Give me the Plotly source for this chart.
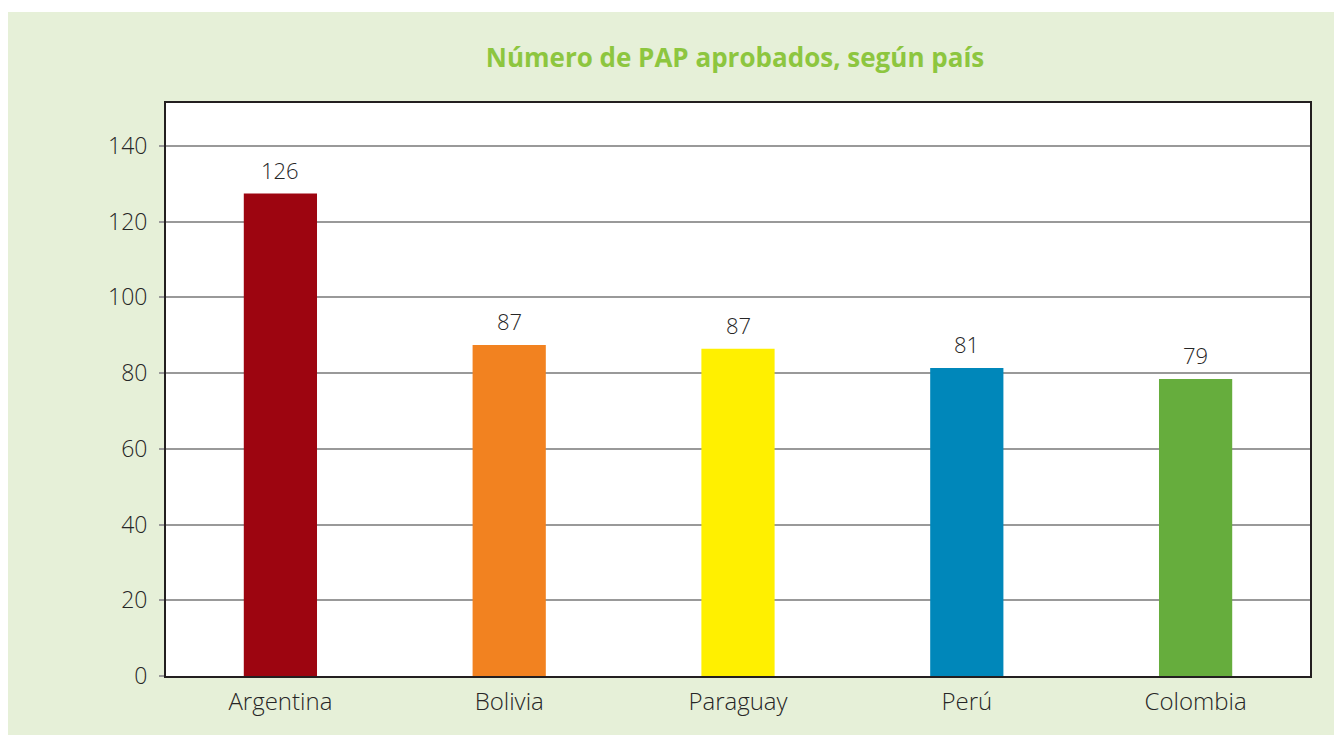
import plotly.graph_objects as go

countries = ["Argentina", "Bolivia", "Paraguay", "Perú", "Colombia"]
bar_values = [127.4, 87.4, 86.4, 81.3, 78.4]
label_values = [126, 87, 87, 81, 79]
bar_colors = ["#9d0510", "#f28220", "#fff000", "#0087ba", "#66ad3d"]
y_ticks = [0, 20, 40, 60, 80, 100, 120, 140]

# page body has an 8px margin, so the figure is drawn at (8, 8)
W, H = 1334, 727
ML, MR, MT, MB = 158, 32, 95, 59
pw, ph = W - ML - MR, H - MT - MB
TEXT = "#262626"

fig = go.Figure()
fig.add_trace(go.Bar(
    x=countries, y=bar_values,
    marker=dict(color=bar_colors, line=dict(width=0)),
    width=0.32, hoverinfo="skip",
))

for c, v, lab in zip(countries, bar_values, label_values):
    fig.add_annotation(x=c, y=v, text=str(lab), showarrow=False,
                       yanchor="bottom", yshift=7,
                       font=dict(family="Open Sans", size=22, color=TEXT,
                                 weight=300))

def px_x(p):
    return (p - ML) / pw

def px_y(p):
    return (H - MB - p) / ph

# thin white strip at the top
fig.add_shape(type="rect", xref="paper", yref="paper", layer="below",
              x0=px_x(-5), x1=px_x(W + 5), y0=px_y(4), y1=px_y(-5),
              fillcolor="white", line=dict(width=0))

fig.update_layout(
    width=W, height=H,
    margin=dict(l=ML, r=MR, t=MT, b=MB, pad=0),
    paper_bgcolor="#e6f0d8",
    plot_bgcolor="white",
    showlegend=False,
    title=dict(text="<b>Número de PAP aprobados, según país</b>",
               x=px_x(727), xref="paper", xanchor="center",
               y=1 - 50 / H, yanchor="middle",
               font=dict(family="Open Sans", size=26, color="#8dc63f")),
    xaxis=dict(
        showline=True, linecolor="#231f20", linewidth=2, mirror=True,
        showgrid=False, ticks="", ticklabelstandoff=3,
        tickfont=dict(family="Open Sans", size=24, color=TEXT, weight=300),
    ),
    yaxis=dict(
        range=[0, 151.3], tickvals=y_ticks,
        showline=True, linecolor="#231f20", linewidth=2, mirror=True,
        showgrid=True, gridcolor="#999999", gridwidth=2, zeroline=False,
        ticks="outside", ticklen=5, tickcolor="#999999", tickwidth=2,
        ticklabelstandoff=7,
        tickfont=dict(family="Open Sans", size=23, color=TEXT, weight=300),
    ),
)

fig.write_html("out.html")
